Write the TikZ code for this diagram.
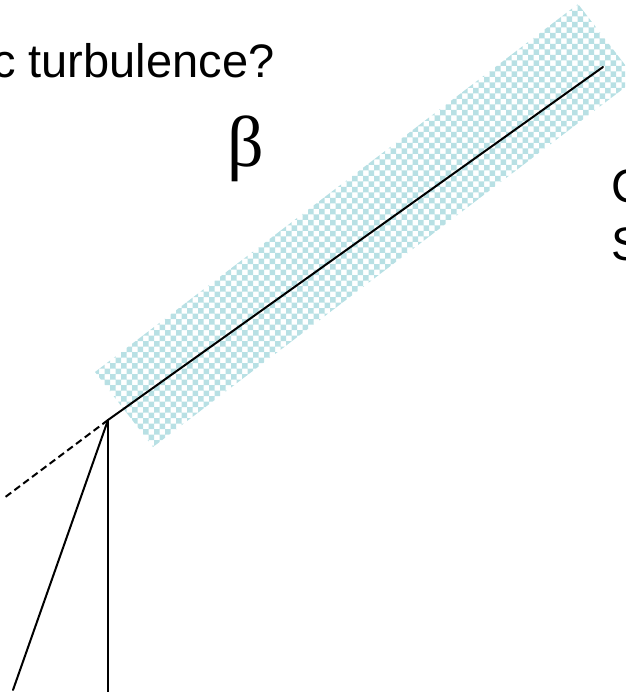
\documentclass[tikz,border=0pt]{standalone}
\usepackage{fontspec}
\setmainfont{Liberation Sans}
\newfontfamily\greekfont{Liberation Serif}

\definecolor{checkcyan}{RGB}{184,224,228}
\tikzset{
  ray/.style={line width=2pt,line cap=round},
  dashray/.style={line width=2pt,dash pattern=on 7pt off 4pt},
  label text/.style={inner sep=0pt,anchor=base west}
}

\begin{document}
\begin{tikzpicture}[x=1pt,y=-1pt]
  \useasboundingbox (0,0) rectangle (625,692);
  \clip (0,0) rectangle (625,692);
  % shaded band along the upper ray, checkered
  \begin{scope}
    \clip (95,372) -- (578,4) -- (636,79) -- (153,447) -- cycle;
    \fill[checkcyan] \foreach \i in {0,...,50} {\foreach \j in {0,...,41} {
      (88+11*\i,11*\j) rectangle ++(5.5,5.5)
      (93.5+11*\i,5.5+11*\j) rectangle ++(5.5,5.5)}};
  \end{scope}
  % vertex and ray ends
  \coordinate (vertex) at (108,420);
  \coordinate (upper) at (603,67);
  \coordinate (back) at (4,498);
  \coordinate (slant) at (13,690);
  \coordinate (down) at (108,692);
  \draw[ray] (vertex) -- (upper);
  \draw[dashray] (vertex) -- (back);
  \draw[ray] (vertex) -- (slant);
  \draw[ray] (vertex) -- (down);
  % labels
  \node[label text,font=\fontsize{47}{54}\selectfont] (question) at (-8,78) {c turbulence?};
  \node[label text,font=\greekfont\fontsize{72}{80}\selectfont] (beta) at (227,167) {β};
  \node[label text,font=\fontsize{47}{54}\selectfont] (cline) at (611,203) {C};
  \node[label text,font=\fontsize{47}{54}\selectfont] (sline) at (611,260) {S};
\end{tikzpicture}
\end{document}
